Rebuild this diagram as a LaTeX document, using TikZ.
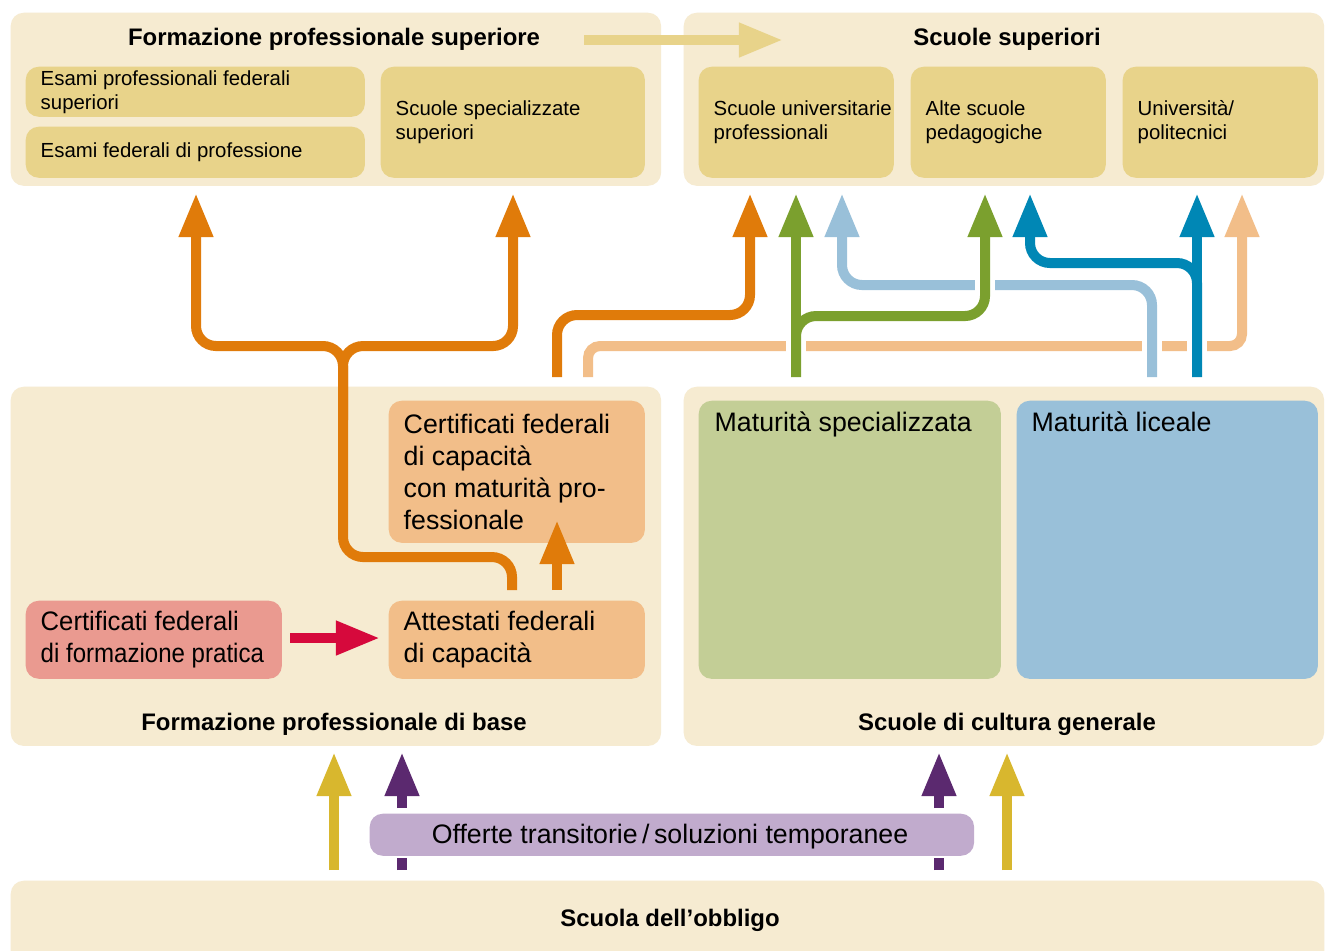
\documentclass[tikz,border=0pt]{standalone}
\usepackage{fontspec}
\setmainfont{Liberation Sans}
\usetikzlibrary{arrows.meta,calc}
\definecolor{beige}{HTML}{F6EBD1}
\definecolor{goldbox}{HTML}{E8D38A}
\definecolor{lorange}{HTML}{F2BE89}
\definecolor{dorange}{HTML}{E07B0A}
\definecolor{pinkbox}{HTML}{EA9A90}
\definecolor{crimson}{HTML}{D6093C}
\definecolor{lgreen}{HTML}{C3CE96}
\definecolor{lblue}{HTML}{99C0D9}
\definecolor{dgreen}{HTML}{7BA02E}
\definecolor{dblue}{HTML}{0087B5}
\definecolor{lpurple}{HTML}{C1ABCD}
\definecolor{dpurple}{HTML}{5B296F}
\definecolor{yellowa}{HTML}{D8B72E}
\tikzset{
  box/.style={rectangle, rounded corners=0.13cm, inner sep=0pt, anchor=north west, draw=none},
  bigtxt/.style={font=\fontsize{7.6}{9.1}\selectfont},
  smalltxt/.style={font=\fontsize{5.8}{6.83}\selectfont},
  headtxt/.style={font=\bfseries\fontsize{6.8}{8}\selectfont, inner sep=0pt},
  lbl/.style={inner sep=0pt, align=left, anchor=west},
  flow/.style={line width=0.1cm, -{Triangle[length=0.44cm,width=0.32cm]}},
  plain/.style={line width=0.1cm},
  halo/.style={line width=0.2cm, draw=white},
}
\begin{document}
\begin{tikzpicture}[x=0.01cm,y=-0.01cm]
\useasboundingbox (0,0) rectangle (1325,950);
\clip (0,0) rectangle (1325,950);
\fill[white] (0,0) rectangle (1325,950);

% outer boxes
\node[box, fill=beige, minimum width=6.50cm, minimum height=1.73cm] (fps) at (10,12) {};
\node[box, fill=beige, minimum width=6.40cm, minimum height=1.73cm] (ss) at (683,12) {};
\node[box, fill=beige, minimum width=6.50cm, minimum height=3.59cm] (fpb) at (10,386) {};
\node[box, fill=beige, minimum width=6.40cm, minimum height=3.59cm] (scg) at (683,386) {};
\node[box, fill=beige, minimum width=13.13cm, minimum height=0.90cm] (so) at (10,880) {};

% inner boxes top
\node[box, fill=goldbox, minimum width=3.39cm, minimum height=0.50cm] (epf) at (25,66) {};
\node[box, fill=goldbox, minimum width=3.39cm, minimum height=0.51cm] (efp) at (25,126) {};
\node[box, fill=goldbox, minimum width=2.64cm, minimum height=1.11cm] (sss) at (380,66) {};
\node[box, fill=goldbox, minimum width=1.95cm, minimum height=1.11cm] (sup) at (698,66) {};
\node[box, fill=goldbox, minimum width=1.95cm, minimum height=1.11cm] (asp) at (910,66) {};
\node[box, fill=goldbox, minimum width=1.95cm, minimum height=1.11cm] (uni) at (1122,66) {};

% inner boxes middle
\node[box, fill=lorange, minimum width=2.56cm, minimum height=1.42cm] (cfm) at (388,400) {};
\node[box, fill=lorange, minimum width=2.56cm, minimum height=0.78cm] (afc) at (388,600) {};
\node[box, fill=pinkbox, minimum width=2.56cm, minimum height=0.78cm] (cffp) at (25,600) {};
\node[box, fill=lgreen, minimum width=3.02cm, minimum height=2.78cm] (ms) at (698,400) {};
\node[box, fill=lblue, minimum width=3.01cm, minimum height=2.78cm] (ml) at (1016,400) {};

% transition box
\node[box, fill=lpurple, minimum width=6.04cm, minimum height=0.42cm] (ot) at (369,813) {};

% headings
\node[headtxt, anchor=base] (h-fps) at (334,45) {Formazione professionale superiore};
\node[headtxt, anchor=base] (h-ss) at (1007,45) {Scuole superiori};
\node[headtxt, anchor=base] (h-fpb) at (334,730) {Formazione professionale di base};
\node[headtxt, anchor=base] (h-scg) at (1007,730) {Scuole di cultura generale};
\node[headtxt, anchor=base] (h-so) at (670,926) {Scuola dell’obbligo};

% labels
\node[smalltxt, lbl] (t-epf) at ([xshift=0.15cm]epf.west) {Esami professionali federali\\superiori};
\node[smalltxt, lbl] (t-efp) at ([xshift=0.15cm]efp.west) {Esami federali di professione};
\node[smalltxt, lbl] (t-sss) at ([xshift=0.15cm]sss.west) {Scuole specializzate\\superiori};
\node[smalltxt, lbl] (t-sup) at ([xshift=0.15cm]sup.west) {Scuole universitarie\\professionali};
\node[smalltxt, lbl] (t-asp) at ([xshift=0.15cm]asp.west) {Alte scuole\\pedagogiche};
\node[smalltxt, lbl] (t-uni) at ([xshift=0.15cm]uni.west) {Università/\\politecnici};
\node[bigtxt, lbl] (t-cfm) at ([xshift=0.15cm]cfm.west) {Certificati federali\\di capacità\\con maturità pro-\\fessionale};
\node[bigtxt, lbl] (t-afc) at ([xshift=0.15cm]afc.west) {Attestati federali\\di capacità};
\node[bigtxt, lbl] (t-cffp) at ([xshift=0.15cm]cffp.west) {{\addfontfeature{FakeStretch=0.96}Certificati federali}\\{\addfontfeature{FakeStretch=0.9}di formazione pratica}};
\node[bigtxt, inner sep=0pt, anchor=base west] (t-ms) at ([shift={(16,31)}]ms.north west) {Maturità specializzata};
\node[bigtxt, inner sep=0pt, anchor=base west] (t-ml) at ([shift={(15,31)}]ml.north west) {Maturità liceale};
\node[bigtxt, inner sep=0pt, anchor=base] (t-ot) at (670,843) {Offerte transitorie\,/\,soluzioni temporanee};

% coordinates
\coordinate (ta1) at (584,40);   \coordinate (ta2) at (783,40);
\coordinate (ra1) at (290,638);  \coordinate (ra2) at (380,638);
\coordinate (oa1) at (557,590);  \coordinate (oa2) at (557,520);
\coordinate (ob1) at (512,590);
\coordinate (ob2) at (343,420);
\coordinate (oc1) at (557,377);
\coordinate (lo1) at (588,377);
\coordinate (g1) at (796,377);
\coordinate (lb1) at (1152,377);
\coordinate (db1) at (1197,377);

% title arrow
\draw[flow, goldbox] (ta1) -- (ta2);
% red arrow
\draw[flow, crimson] (ra1) -- (ra2);
% orange within base
\draw[flow, dorange] (oa1) -- (oa2);

% light orange
\draw[flow, lorange, rounded corners=0.12cm] (lo1) -- (588,346) -- (1242,346) -- (1242,193);
% light blue
\draw[halo] (lb1) -- (1152,330);
\draw[flow, lblue, rounded corners=0.2cm] (lb1) -- (1152,285) -- (842,285) -- (842,193);
% green
\draw[halo] (g1) -- (796,193);
\draw[halo] (985,316) -- (985,193);
\draw[flow, dgreen] (g1) -- (796,193);
\draw[flow, dgreen, rounded corners=0.2cm] (g1) -- (796,316) -- (985,316) -- (985,193);
% dark blue
\draw[halo] (db1) -- (1197,300);
\draw[flow, dblue] (db1) -- (1197,193);
\draw[flow, dblue, rounded corners=0.2cm] (db1) -- (1197,263) -- (1030,263) -- (1030,193);
% orange
\draw[flow, dorange, rounded corners=0.2cm] (oc1) -- (557,315) -- (750,315) -- (750,193);
\draw[flow, dorange, rounded corners=0.2cm] (ob1) -- (512,557) -- (343,557) -- (343,346) -- (196,346) -- (196,193);
\draw[flow, dorange, rounded corners=0.2cm] (ob2) -- (343,346) -- (513,346) -- (513,193);

% bottom arrows
\coordinate (y1a) at (334,870); \coordinate (y1b) at (334,752);
\coordinate (y2a) at (1007,870); \coordinate (y2b) at (1007,752);
\draw[flow, yellowa] (y1a) -- (y1b);
\draw[flow, yellowa] (y2a) -- (y2b);
\coordinate (p1a) at (402,870); \coordinate (p1b) at (402,858);
\coordinate (p1c) at (402,808); \coordinate (p1d) at (402,752);
\coordinate (p2a) at (939,870); \coordinate (p2b) at (939,858);
\coordinate (p2c) at (939,808); \coordinate (p2d) at (939,752);
\draw[plain, dpurple] (p1a) -- (p1b);
\draw[flow, dpurple] (p1c) -- (p1d);
\draw[plain, dpurple] (p2a) -- (p2b);
\draw[flow, dpurple] (p2c) -- (p2d);
\end{tikzpicture}
\end{document}
